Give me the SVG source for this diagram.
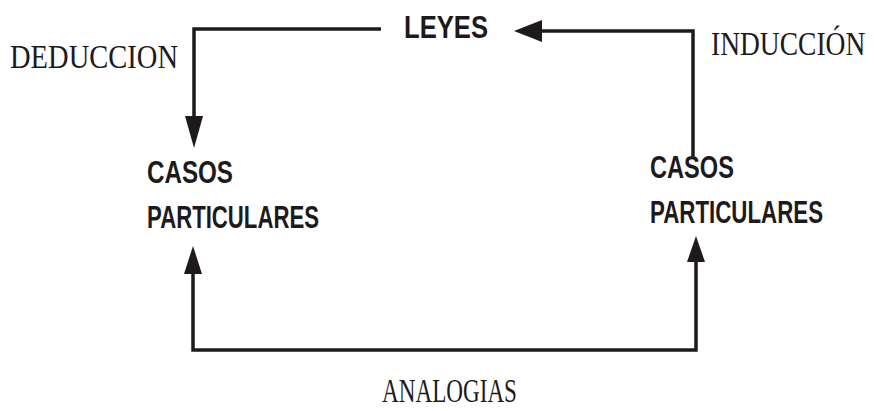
<svg xmlns="http://www.w3.org/2000/svg" width="874" height="411" viewBox="0 0 874 411">
<style>
.node{font-family:"Liberation Sans",Arial,sans-serif;font-weight:bold;fill:#1e1a1b}
.lbl{font-family:"Liberation Serif","Times New Roman",serif;fill:#1e1a1b}
.ln{fill:none;stroke:#1e1a1b;stroke-width:3.5}
.ah{fill:#1e1a1b}
</style>
<rect width="874" height="411" fill="#fff"/>
<g id="connectors">
<path class="ln" d="M381,29 H194 V122"/>
<polygon class="ah" points="185,116 203,116 194,148"/>
<path class="ln" d="M536,31 H693 V156"/>
<polygon class="ah" points="514,31 542,20 542,42"/>
<path class="ln" d="M193,270 V350 H696 V258"/>
<polygon class="ah" points="193,246 184,274 202,274"/>
<polygon class="ah" points="696,236 687,262 705,262"/>
</g>
<g id="leyes"><text class="node" x="404" y="38" font-size="31" textLength="84" lengthAdjust="spacingAndGlyphs">LEYES</text></g>
<g id="casos-izq">
<text class="node" x="147" y="183" font-size="31" textLength="86" lengthAdjust="spacingAndGlyphs">CASOS</text>
<text class="node" x="147" y="228" font-size="31" textLength="172" lengthAdjust="spacingAndGlyphs">PARTICULARES</text>
</g>
<g id="casos-der">
<text class="node" transform="translate(650,178) scale(1,1.31)" font-size="23.6">CASOS</text>
<text class="node" transform="translate(650,223) scale(1,1.39)" font-size="22.3">PARTICULARES</text>
</g>
<g id="labels">
<text class="lbl" x="10" y="68" font-size="34" textLength="168" lengthAdjust="spacingAndGlyphs">DEDUCCION</text>
<text class="lbl" transform="translate(711,55) scale(1,1.236)" font-size="27.5">INDUCCIÓN</text>
<text class="lbl" x="382" y="402" font-size="34" textLength="135" lengthAdjust="spacingAndGlyphs">ANALOGIAS</text>
</g>
</svg>
